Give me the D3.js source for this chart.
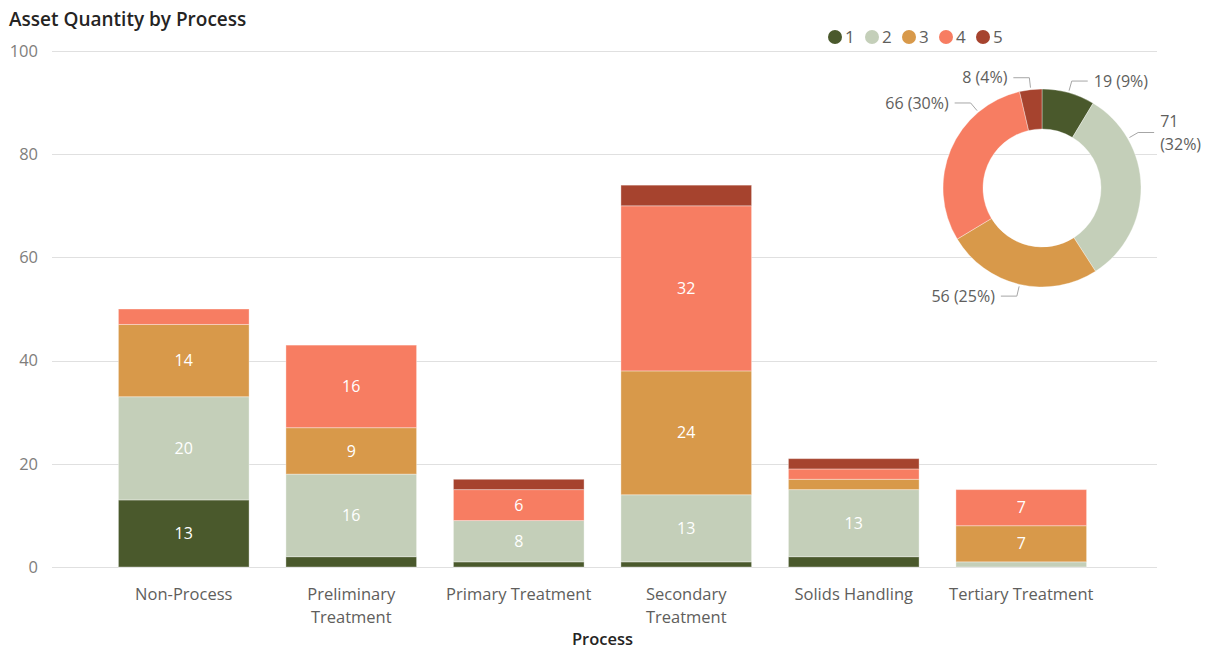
<!DOCTYPE html>
<html>
<head>
<meta charset="utf-8">
<script src="https://cdn.jsdelivr.net/npm/d3@7"></script>
<style>
  html, body { margin: 0; padding: 0; background: #fff; }
  svg { display: block; }
  text { font-family: "Open Sans", "Segoe UI", sans-serif; }
</style>
</head>
<body>
<svg id="chart" width="1213" height="649"></svg>
<script>
// Asset counts per process, split by condition rating 1-5
const categories = ["Non-Process", "Preliminary Treatment", "Primary Treatment",
                    "Secondary Treatment", "Solids Handling", "Tertiary Treatment"];
const seriesNames = ["1", "2", "3", "4", "5"];
const rating1 = [13, 2, 1, 1, 2, 0];
const rating2 = [20, 16, 8, 13, 13, 1];
const rating3 = [14, 9, 0, 24, 2, 7];
const rating4 = [3, 16, 6, 32, 2, 7];
const rating5 = [0, 0, 2, 4, 2, 0];
const yTicks = [0, 20, 40, 60, 80, 100];
const colors = ["#4A592C", "#C4CFB9", "#D8994A", "#F77D62", "#A6432E"];

const seriesValues = [rating1, rating2, rating3, rating4, rating5];
const rows = categories.map((c, i) => {
  const r = { category: c };
  seriesNames.forEach((s, k) => { r[s] = seriesValues[k][i]; });
  return r;
});

const svg = d3.select("#chart");
const W = 1213, H = 649;

// Title
svg.append("text")
  .attr("x", 9).attr("y", 26)
  .attr("font-weight", 600)
  .attr("font-size", 19)
  .attr("fill", "#252423")
  .text("Asset Quantity by Process");

// Scales
const x = d3.scaleBand().domain(categories).range([100, 1105])
  .paddingInner(0.22).paddingOuter(0.11);
const y = d3.scaleLinear().domain([0, 100]).range([567, 51]);
const color = d3.scaleOrdinal().domain(seriesNames).range(colors);

// Gridlines + y labels
const yAxis = svg.append("g");
yAxis.selectAll("line").data(yTicks).join("line")
  .attr("x1", 52).attr("x2", 1157)
  .attr("y1", d => Math.round(y(d)) + 0.5).attr("y2", d => Math.round(y(d)) + 0.5)
  .attr("stroke", "#E0E0E0").attr("stroke-width", 1);
yAxis.selectAll("text").data(yTicks).join("text")
  .attr("x", 38).attr("y", d => y(d))
  .attr("dy", "0.35em")
  .attr("text-anchor", "end")
  .attr("font-size", 16.5)
  .attr("fill", "#807E7C")
  .text(d => d);

// Stacked bars
const stacked = d3.stack().keys(seriesNames)(rows);
const layers = svg.append("g").selectAll("g").data(stacked).join("g")
  .attr("fill", d => color(d.key));
layers.selectAll("rect").data(d => d.filter(p => p[1] - p[0] > 0)).join("rect")
  .attr("x", d => x(d.data.category))
  .attr("width", x.bandwidth())
  .attr("y", d => y(d[1]))
  .attr("height", d => y(d[0]) - y(d[1]))
  .attr("stroke", "rgba(255,255,255,0.35)")
  .attr("stroke-width", 1);

// Segment value labels (only where the segment is tall enough)
const labelG = svg.append("g");
stacked.forEach(layer => {
  layer.forEach(p => {
    const v = p[1] - p[0];
    if (y(p[0]) - y(p[1]) < 26) return;
    labelG.append("text")
      .attr("x", x(p.data.category) + x.bandwidth() / 2)
      .attr("y", (y(p[0]) + y(p[1])) / 2)
      .attr("dy", "0.35em")
      .attr("text-anchor", "middle")
      .attr("font-size", 16)
      .attr("fill", "#FFFFFF")
      .text(v);
  });
});

// Category labels with wrapping
const xLab = svg.append("g");
categories.forEach(c => {
  const t = xLab.append("text")
    .attr("x", x(c) + x.bandwidth() / 2)
    .attr("y", 600)
    .attr("text-anchor", "middle")
    .attr("font-size", 16.5)
    .attr("fill", "#605E5C")
    .text(c);
  if (t.node().getComputedTextLength() > 155) {
    const words = c.split(" ");
    t.text(null);
    words.forEach((w, i) => {
      t.append("tspan")
        .attr("x", x(c) + x.bandwidth() / 2)
        .attr("y", 600 + i * 23)
        .text(w);
    });
  }
});

// Axis title
svg.append("text")
  .attr("x", (x.range()[0] + x.range()[1]) / 2)
  .attr("y", 645)
  .attr("text-anchor", "middle")
  .attr("font-weight", 600)
  .attr("font-size", 16.5)
  .attr("fill", "#252423")
  .text("Process");

// Legend
const legend = svg.append("g");
let lx = 835;
seriesNames.forEach((s, i) => {
  legend.append("circle").attr("cx", lx).attr("cy", 37).attr("r", 7).attr("fill", color(s));
  legend.append("text")
    .attr("x", lx + 10).attr("y", 37).attr("dy", "0.35em")
    .attr("font-size", 17).attr("fill", "#605E5C").text(s);
  lx += 37;
});

// Donut of totals by rating
const totals = seriesValues.map(arr => d3.sum(arr));
const grand = d3.sum(totals);
const cx = 1042, cy = 188, rOuter = 99, rInner = 59;
const pie = d3.pie().sort(null).value(d => d)(totals);
const arc = d3.arc().innerRadius(rInner).outerRadius(rOuter);
const donut = svg.append("g").attr("transform", `translate(${cx},${cy})`);
donut.selectAll("path").data(pie).join("path")
  .attr("d", arc)
  .attr("fill", (d, i) => colors[i])
  .attr("stroke", "rgba(255,255,255,0.35)")
  .attr("stroke-width", 1);

// Leader lines and labels; null uses the slice mid-angle
const leaderAngleDeg = [null, 60, null, 320, null];
const pt = (a, r) => [Math.sin(a) * r, -Math.cos(a) * r];
pie.forEach((d, i) => {
  const a = leaderAngleDeg[i] == null ? (d.startAngle + d.endAngle) / 2 : leaderAngleDeg[i] * Math.PI / 180;
  const p0 = pt(a, rOuter + 2);
  const p1 = pt(a, rOuter + 12);
  const right = p1[0] > 0;
  const p2 = [p1[0] + (right ? 16 : -16), p1[1]];
  donut.append("polyline")
    .attr("points", [p0, p1, p2].map(p => p.join(",")).join(" "))
    .attr("fill", "none").attr("stroke", "#A6A6A6").attr("stroke-width", 1);
  const pct = Math.round(d.value / grand * 100);
  const label = `${d.value} (${pct}%)`;
  const tx = p2[0] + (right ? 6 : -6);
  const t = donut.append("text")
    .attr("x", tx).attr("y", p2[1]).attr("dy", "0.35em")
    .attr("text-anchor", right ? "start" : "end")
    .attr("font-size", 16).attr("fill", "#605E5C")
    .text(label);
  if (right && cx + tx + t.node().getComputedTextLength() > W - 2) {
    t.text(null);
    [`${d.value}`, `(${pct}%)`].forEach((s, k) => {
      t.append("tspan").attr("x", tx).attr("y", p2[1] + (k - 0.5) * 23)
        .attr("dy", "0.35em").text(s);
    });
  }
});
</script>
</body>
</html>
